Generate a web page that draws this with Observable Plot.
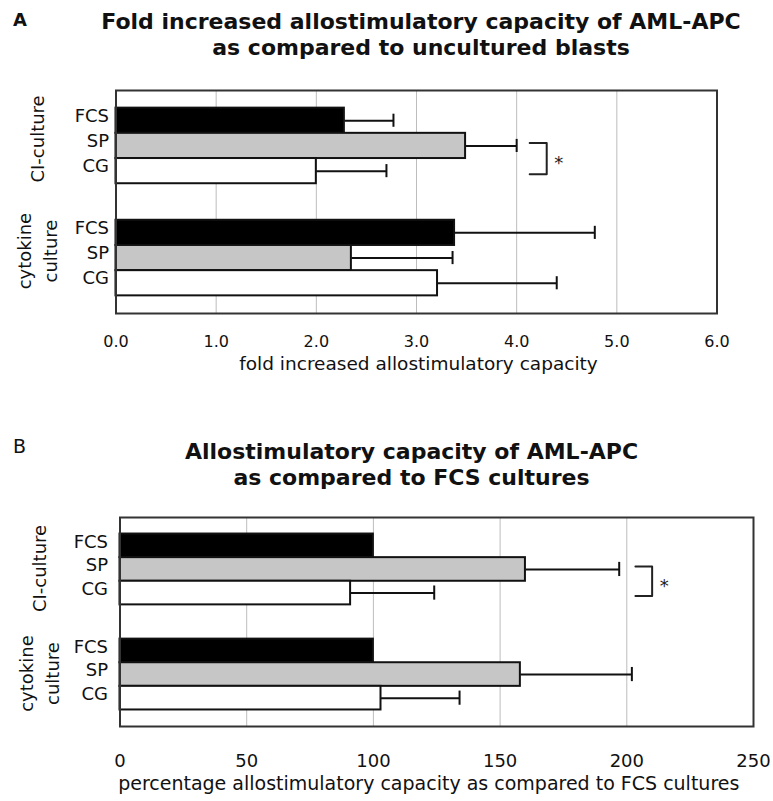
<!DOCTYPE html>
<html>
<head>
<meta charset="utf-8">
<script src="https://cdn.jsdelivr.net/npm/d3@7"></script>
<script src="https://cdn.jsdelivr.net/npm/@observablehq/plot@0.6"></script>
<style>
  html, body { margin: 0; padding: 0; background: #fff; }
  body { width: 773px; height: 801px; overflow: hidden; position: relative; font-family: "DejaVu Sans", sans-serif; color: #111; }
  .abs { position: absolute; z-index: 2; white-space: nowrap; }
  .title { font-weight: bold; font-size: 22px; line-height: 26px; text-align: center; width: 700px; }
  .plot { position: absolute; left: 0; z-index: 1; }
</style>
</head>
<body>
<div class="abs" style="left:13px; top:11px; font-weight:bold; font-size:18px; line-height:18px;">A</div>
<div class="abs title" style="left:71px; top:9px;">Fold increased allostimulatory capacity of AML-APC<br>as compared to uncultured blasts</div>
<div class="abs" style="left:13px; top:437px; font-size:19px; line-height:19px;">B</div>
<div class="abs title" style="left:61.5px; top:439px;">Allostimulatory capacity of AML-APC<br>as compared to FCS cultures</div>
<div id="pa" class="plot" style="top:0px;"></div>
<div id="pb" class="plot" style="top:500px;"></div>
<script>
// ---- data ----
const groups = ["CI-culture", "cytokine\nculture"];
const media = ["FCS", "SP", "CG"];
const foldMean = [2.28, 3.49, 2.00, 3.38, 2.35, 3.21];
const foldSD   = [0.49, 0.51, 0.70, 1.40, 1.01, 1.19];
const pctMean  = [100, 160, 91, 100, 158, 103];
const pctSD    = [null, 37, 33, null, 44, 31];
const foldTicks = [0, 1, 2, 3, 4, 5, 6];
const pctTicks  = [0, 50, 100, 150, 200, 250];
const foldLabel = "fold increased allostimulatory capacity";
const pctLabel  = "percentage allostimulatory capacity as compared to FCS cultures";
const sigFold = [{group: 0, from: 1, to: 2, x1: 4.13, x2: 4.30, label: "*"}];
const sigPct  = [{group: 0, from: 1, to: 2, x1: 203.4, x2: 210, label: "*"}];

// ---- layout ----
const GROUP_STEP = 4.45;
const yDomain = [-0.7, 8.15];
const rowPos = (g, m) => g * GROUP_STEP + m;

function buildRows(mean, sd) {
  const rows = [];
  groups.forEach((grp, g) => media.forEach((med, m) => {
    const i = g * media.length + m;
    rows.push({group: grp, medium: med, mean: mean[i], sd: sd[i], pos: rowPos(g, m)});
  }));
  return rows;
}

function panel(o) {
  const rows = buildRows(o.mean, o.sd);
  const errRows = rows.filter(d => d.sd != null);
  const groupData = groups.map((grp, g) => ({text: grp, pos: rowPos(g, 1) + 0.5}));
  const brackets = [];
  o.sig.forEach((s, k) => {
    const ya = rowPos(s.group, s.from) + 0.5 - 0.12;
    const yb = rowPos(s.group, s.to) + 0.5 + 0.12;
    brackets.push({k, x: s.x1, y: ya}, {k, x: s.x2, y: ya}, {k, x: s.x2, y: yb}, {k, x: s.x1, y: yb});
  });
  const stars = o.sig.map(s => ({label: s.label, x: s.x2, y: (rowPos(s.group, s.from) + rowPos(s.group, s.to)) / 2 + 0.5}));
  return Plot.plot({
    width: 773,
    height: o.height,
    marginTop: o.mt, marginBottom: o.mb, marginLeft: o.ml, marginRight: o.mr,
    style: {fontFamily: "DejaVu Sans", background: "transparent", color: "#111", overflow: "visible"},
    x: {domain: [o.ticks[0], o.ticks[o.ticks.length - 1]]},
    y: {domain: yDomain, reverse: true, axis: null},
    color: {domain: media, range: ["#000000", "#c6c6c6", "#ffffff"]},
    marks: [
      Plot.gridX(o.ticks, {stroke: "#bdbdbd", strokeOpacity: 1, strokeWidth: 1}),
      Plot.rect(rows, {x1: d => 0, x2: "mean", y1: "pos", y2: d => d.pos + 1, fill: "medium", stroke: "#111", strokeWidth: 2}),
      Plot.link(errRows, {x1: "mean", x2: d => d.mean + d.sd, y1: d => d.pos + 0.5, y2: d => d.pos + 0.5, stroke: "#111", strokeWidth: 2}),
      Plot.ruleX(errRows, {x: d => d.mean + d.sd, y1: d => d.pos + 0.5 - o.cap, y2: d => d.pos + 0.5 + o.cap, stroke: "#111", strokeWidth: 2}),
      Plot.line(brackets, {x: "x", y: "y", z: "k", stroke: "#222", strokeWidth: 2}),
      Plot.text(stars, {x: "x", y: "y", text: "label", dx: 12, dy: 5, fontSize: 18, fill: "#222"}),
      Plot.text(rows, {x: d => 0, y: d => d.pos + 0.5, text: "medium", textAnchor: "end", dx: o.catDx, dy: o.catDy, fontSize: 18, fill: "#111"}),
      Plot.text(groupData, {x: d => 0, y: "pos", text: "text", rotate: -90, dx: o.grpDx, dy: o.grpDy, fontSize: 18, lineHeight: 1.45, fill: "#111"}),
      Plot.frame({stroke: "#333", strokeWidth: 2}),
      Plot.axisX(o.ticks, {tickSize: 0, tickPadding: o.tickPad, fontSize: o.tickFont, tickFormat: o.fmt, label: null, fill: "#111"}),
      Plot.text([o.label], {frameAnchor: "bottom", dy: o.labelDy, dx: o.labelDx, fontSize: o.labelFont, fill: "#111"})
    ]
  });
}

document.getElementById("pa").append(panel({
  mean: foldMean, sd: foldSD, ticks: foldTicks, fmt: d => d.toFixed(1), label: foldLabel, sig: sigFold,
  height: 395, mt: 90, mb: 82, ml: 115.5, mr: 56.5,
  cap: 0.26, catDx: -7, catDy: -5, grpDx: -80, grpDy: -7,
  tickPad: 22, tickFont: 16, labelDy: 56, labelDx: 2, labelFont: 18.5
}));

document.getElementById("pb").append(panel({
  mean: pctMean, sd: pctSD, ticks: pctTicks, fmt: d => String(d), label: pctLabel, sig: sigPct,
  height: 301, mt: 17, mb: 75, ml: 119.5, mr: 20,
  cap: 0.3, catDx: -12, catDy: -4, grpDx: -82, grpDy: -1,
  tickPad: 27.5, tickFont: 18, labelDy: 63, labelDx: -8, labelFont: 19
}));
</script>
</body>
</html>
